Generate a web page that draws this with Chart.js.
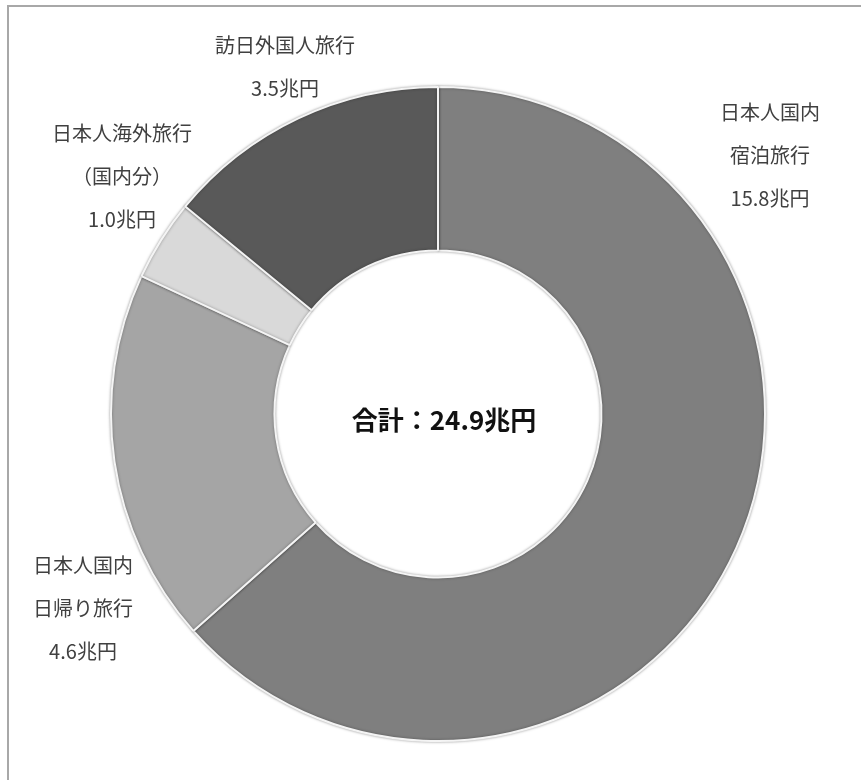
<!DOCTYPE html>
<html lang="ja">
<head>
<meta charset="utf-8">
<title>旅行消費額</title>
<script src="https://cdn.jsdelivr.net/npm/chart.js@4/dist/chart.umd.min.js"></script>
<style>
  html, body { margin: 0; padding: 0; background: #fff; }
  #wrap { position: relative; width: 861px; height: 780px; overflow: hidden; }
  #frame {
    position: absolute; left: 7px; top: 5px; width: 900px; height: 820px;
    border-left: 2px solid #a8a8a8; border-top: 2px solid #a8a8a8;
  }
  canvas { position: absolute; left: 0; top: 0; }
</style>
</head>
<body>
<div id="wrap">
  <div id="frame"></div>
  <canvas id="chart" width="861" height="780"></canvas>
</div>
<script>
// 旅行消費額の内訳（兆円）
const categories = [
  ["日本人国内", "宿泊旅行"],
  ["日本人国内", "日帰り旅行"],
  ["日本人海外旅行", "（国内分）"],
  ["訪日外国人旅行"],
]
const values = [15.8, 4.6, 1.0, 3.5]
const colors = ["#7f7f7f", "#a5a5a5", "#d9d9d9", "#595959"]

// label anchors, offset from the ring centre (x, y of first line)
const labelOffsets = [
  [332, -302],
  [-355, 151],
  [-316, -281],
  [-153, -369],
]

const total = values.reduce((a, b) => a + b, 0)

const labelPlugin = {
  id: "sliceLabels",
  beforeDatasetsDraw(chart) {
    const ctx = chart.ctx
    ctx.save()
    ctx.shadowColor = "rgba(0,0,0,0.35)"
    ctx.shadowBlur = 3
  },
  afterDatasetsDraw(chart) {
    chart.ctx.restore()
  },
  afterDraw(chart) {
    const ctx = chart.ctx
    const { left, right, top, bottom } = chart.chartArea
    const cx = (left + right) / 2
    const cy = (top + bottom) / 2
    ctx.save()
    ctx.textAlign = "center"
    ctx.textBaseline = "middle"
    ctx.fillStyle = "#404040"
    ctx.font = "20px 'Noto Sans CJK JP', sans-serif"
    categories.forEach((lines, i) => {
      const rows = [...lines, values[i].toFixed(1) + "兆円"]
      const [dx, dy] = labelOffsets[i]
      rows.forEach((t, j) => ctx.fillText(t, cx + dx, cy + dy + j * 43))
    })
    ctx.fillStyle = "#111"
    ctx.font = "bold 26px 'Noto Sans CJK JP', sans-serif"
    ctx.fillText("合計：" + total.toFixed(1) + "兆円", cx + 6, cy + 6)
    ctx.restore()
  },
}

new Chart(document.getElementById("chart"), {
  type: "doughnut",
  data: {
    labels: categories.map((c) => c.join("")),
    datasets: [
      {
        data: values,
        backgroundColor: colors,
        borderColor: "#f4f4f4",
        borderWidth: 2,
      },
    ],
  },
  options: {
    responsive: false,
    animation: false,
    cutout: "50%",
    layout: { padding: { left: 110, right: 95, top: 86, bottom: 38 } },
    plugins: {
      legend: { display: false },
      tooltip: { enabled: false },
    },
  },
  plugins: [labelPlugin],
})
</script>
</body>
</html>
